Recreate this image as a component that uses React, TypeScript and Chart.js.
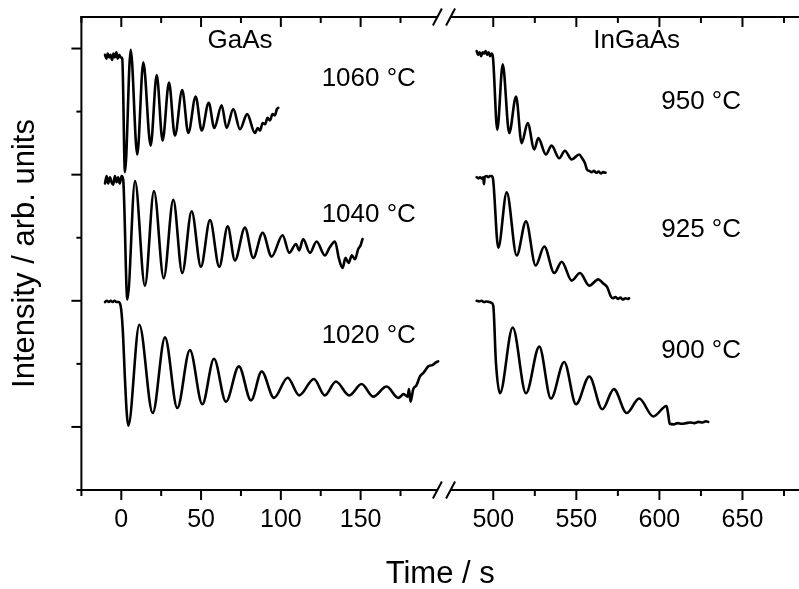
import React, { useEffect, useRef } from 'react';
import { Chart, LinearScale, registerables } from 'chart.js';

Chart.register(...registerables);

// ---------- data (time in s, intensity in arb. units) ----------
const gaas1060T = [-10.2, -9.3, -8.5, -7.6, -6.7, -5.8, -4.9, -4.0, -3.1, -2.2, -1.3, -0.4, 0.6, 2.3, 5.9, 10.0, 13.8, 18.4, 22.2, 25.9, 29.9, 33.6, 38.2, 42.0, 46.6, 50.4, 54.8, 58.3, 62.9, 66.0, 70.2, 74.4, 78.9, 83.8, 85.5, 87.0, 88.6, 90.1, 91.7, 93.2, 94.8, 96.3, 97.5, 98.4];
const gaas1060I = [2.95, 2.92, 2.96, 2.93, 2.95, 2.91, 2.96, 2.93, 2.97, 2.92, 2.95, 2.93, 2.92, 2.02, 2.99, 2.16, 2.89, 2.23, 2.79, 2.27, 2.73, 2.31, 2.67, 2.33, 2.62, 2.35, 2.57, 2.37, 2.55, 2.37, 2.52, 2.36, 2.48, 2.33, 2.37, 2.35, 2.41, 2.40, 2.45, 2.43, 2.48, 2.47, 2.52, 2.53];

const gaas1040T = [-10.2, -9.2, -8.2, -7.1, -6.1, -5.1, -4.0, -3.0, -2.0, -1.0, 0.2, 1.2, 3.8, 8.6, 14.8, 20.5, 26.6, 32.6, 38.2, 44.1, 49.9, 55.6, 61.4, 66.7, 71.2, 77.5, 82.7, 88.6, 94.2, 101.1, 105.3, 109.5, 111.5, 114.0, 118.2, 122.4, 127.6, 130.5, 133.9, 136.5, 138.7, 140.5, 142.5, 144.5, 146.5, 148.5, 150.0, 151.2];
const gaas1040I = [1.93, 1.99, 1.93, 1.98, 1.94, 1.92, 1.99, 1.94, 1.98, 1.93, 1.99, 1.96, 1.01, 1.95, 1.12, 1.87, 1.18, 1.80, 1.22, 1.71, 1.27, 1.64, 1.27, 1.59, 1.32, 1.58, 1.34, 1.54, 1.35, 1.52, 1.38, 1.45, 1.40, 1.49, 1.38, 1.47, 1.36, 1.42, 1.47, 1.33, 1.26, 1.34, 1.30, 1.36, 1.33, 1.41, 1.44, 1.49];

const gaas1020T = [-10.2, -9.0, -7.8, -6.6, -5.4, -4.2, -3.0, -1.8, -0.4, 0.9, 2.3, 3.4, 4.4, 11.3, 19.7, 27.4, 35.1, 43.0, 50.8, 58.1, 65.6, 73.7, 81.3, 88.0, 95.7, 104.3, 111.5, 120.7, 127.6, 134.5, 142.9, 150.6, 157.9, 166.3, 173.6, 177.0, 179.5, 180.3, 181.3, 183.0, 185.0, 187.2, 189.5, 192.4, 195.0, 197.0, 198.6];
const gaas1020I = [0.99, 1.00, 0.99, 1.00, 0.99, 1.00, 0.99, 0.99, 0.96, 0.775, 0.38, 0.114, 0.01, 0.81, 0.11, 0.71, 0.15, 0.61, 0.18, 0.54, 0.20, 0.48, 0.21, 0.44, 0.23, 0.39, 0.25, 0.38, 0.25, 0.36, 0.25, 0.34, 0.24, 0.32, 0.23, 0.26, 0.24, 0.30, 0.20, 0.30, 0.33, 0.40, 0.43, 0.48, 0.49, 0.51, 0.52];

const ingaas950T = [490.0, 490.9, 491.8, 492.7, 493.6, 494.5, 495.4, 496.3, 497.2, 498.1, 499.0, 499.8, 502.4, 505.7, 509.6, 513.7, 517.1, 520.7, 524.7, 527.1, 531.7, 535.1, 539.7, 543.1, 547.2, 551.7, 553.5, 555.2, 556.4, 557.8, 559.2, 560.6, 562.0, 563.4, 564.8, 566.2, 567.6];
const ingaas950I = [2.98, 2.95, 2.97, 2.94, 2.97, 2.96, 2.98, 2.95, 2.97, 2.94, 2.96, 2.93, 2.355, 2.875, 2.33, 2.62, 2.25, 2.41, 2.20, 2.29, 2.16, 2.23, 2.13, 2.19, 2.12, 2.16, 2.13, 2.09, 2.04, 2.03, 2.02, 2.03, 2.015, 2.025, 2.01, 2.02, 2.015];

const ingaas925T = [490.0, 491.0, 492.0, 493.0, 494.0, 494.4, 494.8, 496.0, 497.0, 498.0, 499.0, 499.8, 503.0, 508.1, 514.1, 519.7, 525.5, 530.7, 536.7, 541.2, 547.2, 552.2, 557.8, 563.2, 566.0, 568.5, 570.6, 572.0, 573.5, 575.0, 576.5, 578.0, 579.5, 581.0, 581.8];
const ingaas925I = [1.98, 1.97, 1.98, 1.97, 1.98, 1.925, 1.98, 1.99, 1.98, 1.99, 1.99, 1.97, 1.42, 1.86, 1.36, 1.63, 1.28, 1.43, 1.22, 1.31, 1.16, 1.22, 1.12, 1.17, 1.14, 1.11, 1.04, 1.02, 1.03, 1.015, 1.025, 1.01, 1.02, 1.015, 1.02];

const ingaas900T = [490.0, 491.5, 493.0, 494.5, 496.0, 497.5, 498.8, 500.0, 501.6, 504.0, 511.7, 519.7, 527.7, 534.7, 542.7, 549.8, 557.8, 565.6, 572.6, 580.3, 587.8, 596.3, 604.3, 605.3, 606.2, 608.5, 611.0, 613.5, 616.0, 618.5, 621.0, 623.5, 626.0, 628.0, 629.4];
const ingaas900I = [1.00, 0.995, 1.00, 0.99, 0.995, 0.99, 0.985, 0.96, 0.51, 0.267, 0.788, 0.267, 0.637, 0.225, 0.515, 0.18, 0.40, 0.14, 0.30, 0.11, 0.225, 0.083, 0.166, 0.10, 0.025, 0.02, 0.03, 0.025, 0.03, 0.035, 0.03, 0.04, 0.035, 0.045, 0.04];

// axis ticks
const X_TICKS = [-25, 0, 25, 50, 75, 100, 125, 150, 175, 500, 525, 550, 575, 600, 625, 650, 675];
const Y_TICKS = [-0.5, 0, 0.5, 1, 1.5, 2, 2.5, 3];

// annotation labels and where they sit (data coordinates)
const NOTE_TEXT = ['GaAs', '1060 °C', '1040 °C', '1020 °C', 'InGaAs', '950 °C', '925 °C', '900 °C'];
const NOTE_X = [74.4, 155.1, 155.1, 155.1, 586.3, 625.1, 625.1, 625.1];
const NOTE_Y = [3.058, 2.76, 1.678, 0.725, 3.064, 2.578, 1.561, 0.606];

// ---------- broken x axis ----------
const LEFT_RANGE = [-25, 200];
const RIGHT_RANGE = [474, 684];
const LEFT_END_FRAC = 0.5003;
const RIGHT_START_FRAC = 0.5138;

class BrokenScale extends LinearScale {
  static id = 'broken';
  static defaults = {};
  getPixelForValue(value: number) {
    const len = (this as any).right - (this as any).left;
    const mid = (LEFT_RANGE[1] + RIGHT_RANGE[0]) / 2;
    let f: number;
    if (value <= mid) {
      f = ((value - LEFT_RANGE[0]) / (LEFT_RANGE[1] - LEFT_RANGE[0])) * LEFT_END_FRAC;
    } else {
      f = RIGHT_START_FRAC + ((value - RIGHT_RANGE[0]) / (RIGHT_RANGE[1] - RIGHT_RANGE[0])) * (1 - RIGHT_START_FRAC);
    }
    return (this as any).left + f * len;
  }
  getValueForPixel(pixel: number) {
    const f = (pixel - (this as any).left) / ((this as any).right - (this as any).left);
    if (f <= (LEFT_END_FRAC + RIGHT_START_FRAC) / 2) {
      return LEFT_RANGE[0] + (f / LEFT_END_FRAC) * (LEFT_RANGE[1] - LEFT_RANGE[0]);
    }
    return RIGHT_RANGE[0] + ((f - RIGHT_START_FRAC) / (1 - RIGHT_START_FRAC)) * (RIGHT_RANGE[1] - RIGHT_RANGE[0]);
  }
}
Chart.register(BrokenScale as any);

const FONT = "'Liberation Sans', Arial, Helvetica, sans-serif";

const series = [
  [gaas1060T, gaas1060I],
  [gaas1040T, gaas1040I],
  [gaas1020T, gaas1020I],
  [ingaas950T, ingaas950I],
  [ingaas925T, ingaas925I],
  [ingaas900T, ingaas900I],
];

const framePlugin = {
  id: 'frame',
  afterDraw(chart: any) {
    const ctx = chart.ctx;
    const ca = chart.chartArea;
    const xs = chart.scales.x;
    const ys = chart.scales.y;
    const line = (x1: number, y1: number, x2: number, y2: number) => {
      ctx.beginPath();
      ctx.moveTo(x1, y1);
      ctx.lineTo(x2, y2);
      ctx.stroke();
    };
    ctx.save();
    ctx.strokeStyle = '#000';
    ctx.lineWidth = 2;
    ctx.lineCap = 'butt';
    const gapL = xs.getPixelForValue(LEFT_RANGE[1]) - 3;
    const gapR = xs.getPixelForValue(RIGHT_RANGE[0]) + 0.5;
    // left axis
    line(ca.left, ca.top - 1, ca.left, ca.bottom + 1);
    // top & bottom axis lines with break
    [ca.top, ca.bottom].forEach((y: number) => {
      line(ca.left - 1, y, gapL, y);
      line(gapR, y, ca.right, y);
      [gapL, gapR].forEach((cx: number) => line(cx - 4.5, y + 8.5, cx + 4.5, y - 8.5));
    });
    // x ticks (bottom outward, top inward)
    X_TICKS.forEach((v) => {
      const px = xs.getPixelForValue(v);
      const len = v % 50 === 0 ? 10 : 6;
      line(px, ca.bottom, px, ca.bottom + len);
      line(px, ca.top, px, ca.top + len);
    });
    // y ticks (left outward)
    Y_TICKS.forEach((v) => {
      const py = ys.getPixelForValue(v);
      const len = Number.isInteger(v) ? 10 : 5;
      line(ca.left - len, py, ca.left, py);
    });
    // annotations
    ctx.fillStyle = '#000';
    ctx.font = `26px ${FONT}`;
    ctx.textAlign = 'center';
    ctx.textBaseline = 'middle';
    NOTE_TEXT.forEach((t, i) => {
      ctx.fillText(t, xs.getPixelForValue(NOTE_X[i]), ys.getPixelForValue(NOTE_Y[i]));
    });
    ctx.restore();
  },
};

export default function App() {
  const ref = useRef<HTMLCanvasElement>(null);
  useEffect(() => {
    const chart = new Chart(ref.current as HTMLCanvasElement, {
      type: 'line',
      data: {
        datasets: series.map(([t, v]) => ({
          data: t.map((x, i) => ({ x, y: v[i] })),
          borderColor: '#000',
          borderWidth: 2.6,
          pointRadius: 0,
          cubicInterpolationMode: 'monotone',
          fill: false,
        })),
      } as any,
      options: {
        animation: false,
        responsive: false,
        devicePixelRatio: 1,
        events: [],
        layout: { padding: { top: 17, right: 0, bottom: 0, left: 0 } },
        plugins: {
          legend: { display: false },
          tooltip: { enabled: false },
        },
        elements: { line: { borderJoinStyle: 'round', borderCapStyle: 'round' } },
        scales: {
          x: {
            type: 'broken',
            position: 'bottom',
            min: LEFT_RANGE[0],
            max: RIGHT_RANGE[1],
            afterBuildTicks: (s: any) => {
              s.ticks = X_TICKS.map((v) => ({ value: v }));
            },
            afterFit: (s: any) => {
              s.height = 99;
            },
            grid: { display: false, drawTicks: false, tickLength: 0 },
            border: { display: false },
            ticks: {
              autoSkip: false,
              maxRotation: 0,
              minRotation: 0,
              padding: 15,
              color: '#000',
              font: { family: FONT, size: 25 },
              callback: (v: any) => (Number(v) % 50 === 0 ? String(v) : ''),
            },
            title: {
              display: true,
              text: 'Time / s',
              color: '#000',
              font: { family: FONT, size: 31, lineHeight: 1 },
              padding: { top: 0, bottom: -1 },
            },
          } as any,
          y: {
            type: 'linear',
            position: 'left',
            min: -0.5,
            max: 3.25,
            afterFit: (s: any) => {
              s.width = 81.4;
            },
            grid: { display: false, drawTicks: false, tickLength: 0 },
            border: { display: false },
            ticks: { display: false },
            title: {
              display: true,
              text: 'Intensity / arb. units',
              color: '#000',
              font: { family: FONT, size: 31, lineHeight: 1 },
              padding: { top: 10, bottom: 0 },
            },
          },
        },
      } as any,
      plugins: [framePlugin],
    });
    return () => chart.destroy();
  }, []);
  return (
    <div style={{ position: 'absolute', left: 0, top: 0, width: 799, height: 589, background: '#fff' }}>
      <canvas ref={ref} width={799} height={589} style={{ display: 'block', width: 799, height: 589 }} />
    </div>
  );
}
